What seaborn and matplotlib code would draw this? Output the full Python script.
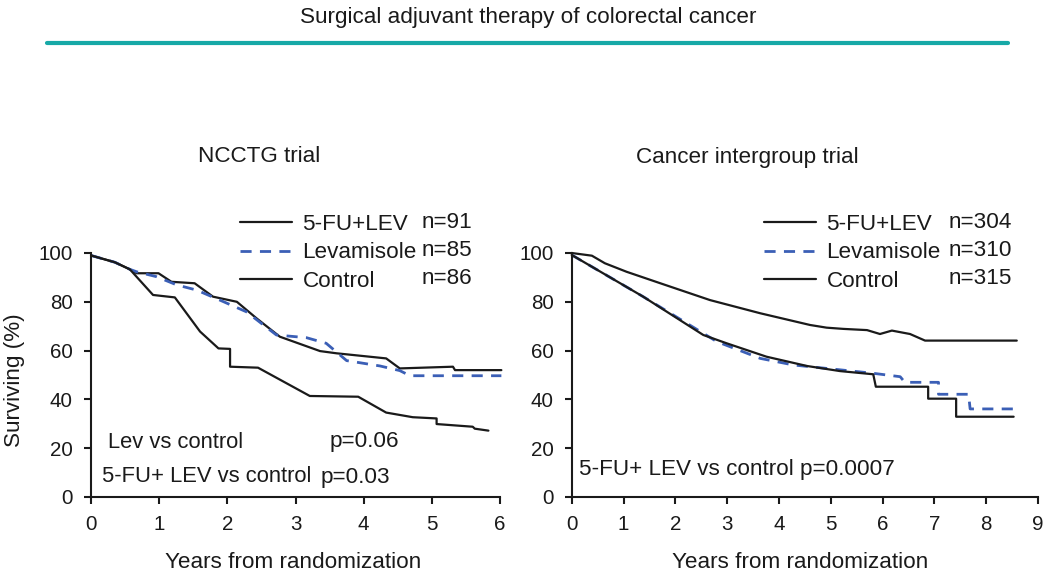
import numpy as np
import pandas as pd
import matplotlib
matplotlib.use("Agg")
import matplotlib.pyplot as plt
import seaborn as sns
from matplotlib.lines import Line2D

sns.set_theme(style="ticks")
plt.rcParams['font.family'] = ['Liberation Sans', 'DejaVu Sans']

# ---------------- data ----------------
# NCCTG trial (left)
ncctg_fulev_x = [0, 0.35, 0.57, 0.67, 0.99, 1.18, 1.52, 1.79, 2.14, 2.43, 2.77, 3.36, 3.60, 4.33, 4.53, 5.31, 5.34, 6.02]
ncctg_fulev_y = [99, 96.2, 93.3, 91.7, 91.7, 88.2, 87.6, 82.1, 80.0, 73.2, 65.7, 59.8, 58.9, 56.8, 52.7, 53.4, 52.0, 52.0]
ncctg_lev_x = [0, 0.35, 0.57, 0.67, 0.96, 1.26, 1.55, 1.89, 2.28, 2.72, 3.16, 3.45, 3.75, 4.24, 4.53, 4.68, 6.02]
ncctg_lev_y = [99, 96.2, 93.3, 92.3, 90.3, 86.9, 84.8, 80.7, 75.9, 66.4, 65.3, 63.0, 55.9, 53.7, 51.8, 49.7, 49.7]
ncctg_ctrl_x = [0, 0.35, 0.57, 0.91, 1.23, 1.60, 1.87, 2.04, 2.04, 2.45, 3.21, 3.92, 4.09, 4.33, 4.72, 5.07, 5.07, 5.60, 5.63, 5.83]
ncctg_ctrl_y = [99, 96.2, 93.3, 82.8, 81.8, 67.8, 60.9, 60.7, 53.4, 53.0, 41.4, 41.1, 38.4, 34.6, 32.7, 32.2, 29.9, 28.8, 28.0, 27.2]

# Cancer intergroup trial (right)
inter_fulev_x = [0, 0.39, 0.64, 1.06, 1.71, 2.67, 3.64, 4.60, 4.92, 5.24, 5.70, 5.95, 6.18, 6.53, 6.82, 8.59]
inter_fulev_y = [100, 98.9, 95.8, 92.3, 87.6, 80.7, 75.3, 70.5, 69.4, 68.9, 68.4, 66.8, 68.2, 66.8, 64.1, 64.1]
inter_lev_x = [0, 1.38, 2.80, 3.64, 4.28, 4.92, 5.82, 6.34, 6.43, 7.08, 7.08, 7.66, 7.69, 8.53]
inter_lev_y = [99.2, 82.1, 63.7, 56.8, 54.1, 52.7, 50.7, 49.3, 47.0, 47.0, 42.1, 42.1, 36.1, 36.1]
inter_ctrl_x = [0, 1.38, 2.54, 2.99, 3.76, 4.54, 5.18, 5.82, 5.87, 6.88, 6.88, 7.42, 7.42, 8.53]
inter_ctrl_y = [99.2, 82.1, 66.4, 63.0, 57.5, 53.7, 51.6, 50.3, 45.2, 45.2, 40.3, 40.3, 32.9, 32.9]

group_names = ["5-FU+LEV", "Levamisole", "Control"]
ncctg_n = ["n=91", "n=85", "n=86"]
inter_n = ["n=304", "n=310", "n=315"]
y_ticks = [0, 20, 40, 60, 80, 100]
ncctg_xticks = [0, 1, 2, 3, 4, 5, 6]
inter_xticks = [0, 1, 2, 3, 4, 5, 6, 7, 8, 9]

BLACK = "#1a1a1a"
BLUE = "#3b5fb6"
TEAL = "#17a9a7"
FS = 16.2
AFS = 15.8
TFS = 14.8

W, H = 1050, 582
L0, LW = 91, 409
R0, RW = 571.7, 466.3
fig = plt.figure(figsize=(W / 100, H / 100), dpi=100)
axL = fig.add_axes([L0 / W, 1 - 497 / H, LW / W, 244 / H])
axR = fig.add_axes([R0 / W, 1 - 497 / H, RW / W, 244 / H])


def draw(ax, xs, ys, name, color, dashed):
    df = pd.DataFrame({"years": xs, "surv": ys})
    kw = dict(linestyle=(0, (4, 3)), lw=2.0) if dashed else dict(linestyle="-", lw=1.6)
    sns.lineplot(data=df, x="years", y="surv", ax=ax, estimator=None, sort=False,
                 color=color, label=name, clip_on=False, **kw)


def style(ax, xticks, xmax):
    ax.set_xlim(0, xmax)
    ax.set_ylim(0, 100)
    ax.set_xticks(xticks)
    ax.set_yticks(y_ticks)
    ax.tick_params(axis="both", labelsize=TFS, width=1.5, length=5, color=BLACK, labelcolor=BLACK)
    ax.tick_params(axis="x", pad=8)
    ax.tick_params(axis="y", pad=8)
    for s in ["top", "right"]:
        ax.spines[s].set_visible(False)
    for s in ["left", "bottom"]:
        ax.spines[s].set_linewidth(1.5)
        ax.spines[s].set_color(BLACK)
    ax.set_xlabel("")
    ax.set_ylabel("")
    ax.patch.set_alpha(0)


draw(axL, ncctg_fulev_x, ncctg_fulev_y, group_names[0], BLACK, False)
draw(axL, ncctg_lev_x, ncctg_lev_y, group_names[1], BLUE, True)
draw(axL, ncctg_ctrl_x, ncctg_ctrl_y, group_names[2], BLACK, False)
draw(axR, inter_fulev_x, inter_fulev_y, group_names[0], BLACK, False)
draw(axR, inter_lev_x, inter_lev_y, group_names[1], BLUE, True)
draw(axR, inter_ctrl_x, inter_ctrl_y, group_names[2], BLACK, False)

style(axL, ncctg_xticks, 6)
style(axR, inter_xticks, 9)


def ax_text(ax, x0, w, px, py, s, size):
    ax.text((px - x0) / w, (497 - py) / 244, s, transform=ax.transAxes,
            ha="left", va="center", fontsize=size, color=BLACK)


def legend(ax, x_hand, x_n, n_labels, x0, w):
    row_px = [223, 251, 279]
    leg = ax.legend(loc="upper left", bbox_to_anchor=((x_hand - x0) / w, (497 - 214) / 244),
                    frameon=False, fontsize=FS, handlelength=2.3, handletextpad=0.48,
                    labelspacing=0.33, borderpad=0, borderaxespad=0)
    for t in leg.get_texts():
        t.set_color(BLACK)
    for lab, r in zip(n_labels, row_px):
        ax_text(ax, x0, w, x_n, r, lab, FS)


legend(axL, 240, 422, ncctg_n, L0, LW)
legend(axR, 764, 949, inter_n, R0, RW)

# subplot titles
ax_text(axL, L0, LW, 198, 157, "NCCTG trial", FS)
ax_text(axR, R0, RW, 636, 157, "Cancer intergroup trial", FS)

# p-values
ax_text(axL, L0, LW, 108, 442, "Lev vs control", AFS)
ax_text(axL, L0, LW, 330, 442, "p=0.06", FS)
ax_text(axL, L0, LW, 102, 477, "5-FU+ LEV vs control", AFS)
ax_text(axL, L0, LW, 321, 477, "p=0.03", FS)
ax_text(axR, R0, RW, 579, 470, "5-FU+ LEV vs control p=0.0007", FS)

# axis labels
fig.text(293 / W, 1 - 562 / H, "Years from randomization", ha="center", va="center", fontsize=FS, color=BLACK)
fig.text(800 / W, 1 - 562 / H, "Years from randomization", ha="center", va="center", fontsize=FS, color=BLACK)
fig.text(15 / W, 1 - 380 / H, "Surviving (%)", ha="center", va="center", rotation=90, fontsize=FS, color=BLACK)

# header
fig.text(528.5 / W, 1 - 17 / H, "Surgical adjuvant therapy of colorectal cancer",
         ha="center", va="center", fontsize=FS, color=BLACK)
fig.add_artist(Line2D([47 / W, 1008 / W], [1 - 43 / H, 1 - 43 / H], transform=fig.transFigure,
                      color=TEAL, lw=3))

fig.savefig("out.png", dpi=100, facecolor="white")
